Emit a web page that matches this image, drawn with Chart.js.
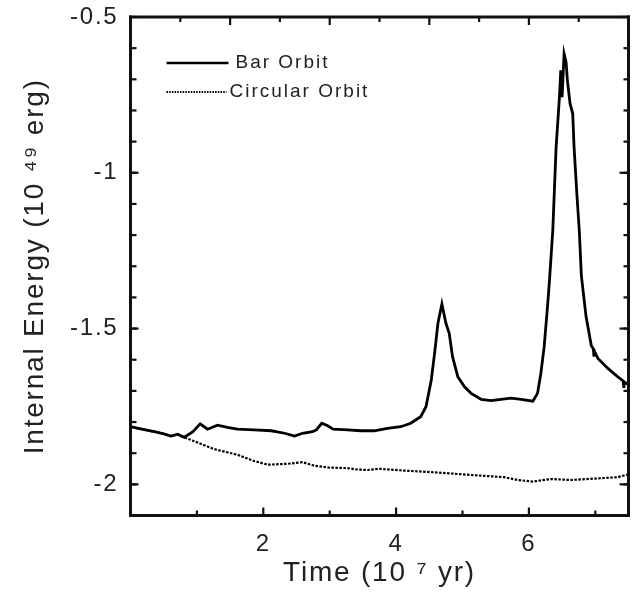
<!DOCTYPE html>
<html>
<head>
<meta charset="utf-8">
<script src="https://cdn.jsdelivr.net/npm/chart.js@4.4.1/dist/chart.umd.min.js"></script>
<style>
  html, body { margin: 0; padding: 0; background: #fff; }
  #wrap { width: 633px; height: 610px; }
</style>
</head>
<body>
<div id="wrap"><canvas id="myChart"></canvas></div>
<script>
// values (time in 10^7 yr, energy in 10^49 erg)
const barTime = [0.00, 0.15, 0.36, 0.50, 0.61, 0.71, 0.81, 0.94, 1.05, 1.16, 1.31, 1.46, 1.61, 1.86, 2.12, 2.32, 2.47, 2.59, 2.74, 2.80, 2.88, 2.97, 3.05, 3.27, 3.47, 3.67, 3.87, 4.07, 4.22, 4.37, 4.45, 4.53, 4.58, 4.63, 4.69, 4.75, 4.80, 4.85, 4.93, 5.03, 5.13, 5.28, 5.43, 5.58, 5.73, 5.88, 6.06, 6.13, 6.18, 6.23, 6.28, 6.31, 6.36, 6.41, 6.46, 6.48, 6.50, 6.53, 6.56, 6.58, 6.62, 6.66, 6.68, 6.72, 6.76, 6.79, 6.86, 6.94, 6.97, 6.98, 6.99, 7.04, 7.19, 7.34, 7.42, 7.43, 7.44, 7.50];
const barEnergy = [-1.815, -1.822, -1.831, -1.838, -1.845, -1.839, -1.849, -1.831, -1.806, -1.823, -1.810, -1.817, -1.823, -1.825, -1.828, -1.836, -1.845, -1.836, -1.831, -1.825, -1.804, -1.812, -1.823, -1.825, -1.828, -1.828, -1.820, -1.815, -1.804, -1.783, -1.751, -1.665, -1.579, -1.483, -1.421, -1.483, -1.515, -1.590, -1.655, -1.687, -1.708, -1.727, -1.731, -1.727, -1.723, -1.727, -1.733, -1.708, -1.644, -1.558, -1.430, -1.345, -1.184, -0.917, -0.757, -0.671, -0.757, -0.618, -0.645, -0.704, -0.778, -0.810, -0.917, -1.060, -1.190, -1.330, -1.460, -1.555, -1.565, -1.590, -1.575, -1.596, -1.628, -1.655, -1.668, -1.690, -1.672, -1.680];

const circTime = [0.00, 0.15, 0.36, 0.50, 0.61, 0.71, 0.81, 1.01, 1.26, 1.61, 1.86, 2.07, 2.37, 2.59, 2.77, 2.97, 3.27, 3.40, 3.57, 3.75, 4.12, 4.63, 5.13, 5.63, 5.83, 6.06, 6.33, 6.63, 7.04, 7.34, 7.46, 7.50];
const circEnergy = [-1.815, -1.822, -1.831, -1.838, -1.845, -1.840, -1.849, -1.866, -1.887, -1.905, -1.925, -1.937, -1.934, -1.929, -1.940, -1.946, -1.948, -1.952, -1.954, -1.950, -1.956, -1.962, -1.970, -1.977, -1.986, -1.991, -1.983, -1.986, -1.981, -1.977, -1.970, -1.968];

const xLabelTicks = [2, 4, 6];
const xMinorTicks = [1, 3, 5, 7];
const topTicks = [0.75, 1.5, 2.25, 3.0, 3.75, 4.5, 5.25, 6.0, 6.75];
const yLabelTicks = [-2, -1.5, -1, -0.5];
const yMinorTicks = [-2.0, -1.9, -1.8, -1.7, -1.6, -1.5, -1.4, -1.3, -1.2, -1.1, -1.0, -0.9, -0.8, -0.7, -0.6];

const FONT = "'Liberation Sans', Arial, Helvetica, sans-serif";
const INK = '#222';
const FRAME = '#111';

const toPoints = (xs, ys) => xs.map((x, i) => ({ x: x, y: ys[i] }));

// wide-set lettering like the scanned figure
const spacing = {
  id: 'spacing',
  beforeDraw(chart) {
    chart.ctx.letterSpacing = '1.8px';
  }
};

// frame and inward ticks on all four sides
const frameTicks = {
  id: 'frameTicks',
  afterDraw(chart) {
    const { ctx, chartArea: a } = chart;
    const x = chart.scales.x;
    const y = chart.scales.y;
    ctx.save();
    ctx.strokeStyle = FRAME;
    ctx.lineWidth = 3;
    ctx.lineCap = 'square';
    ctx.setLineDash([]);
    const line = (x1, y1, x2, y2) => {
      ctx.beginPath();
      ctx.moveTo(x1, y1);
      ctx.lineTo(x2, y2);
      ctx.stroke();
    };
    line(a.left, a.top, a.right, a.top);
    line(a.right, a.top, a.right, a.bottom);
    line(a.left, a.bottom, a.right, a.bottom);
    line(a.left, a.top, a.left, a.bottom);
    ctx.lineWidth = 2.2;
    ctx.lineCap = 'butt';
    xLabelTicks.forEach(v => { const px = x.getPixelForValue(v); line(px, a.bottom, px, a.bottom - 8); });
    xMinorTicks.forEach(v => { const px = x.getPixelForValue(v); line(px, a.bottom, px, a.bottom - 5); });
    topTicks.forEach((v, i) => {
      const px = x.getPixelForValue(v);
      line(px, a.top, px, a.top + (i % 2 ? 8 : 5));
    });
    yLabelTicks.forEach(v => {
      const py = y.getPixelForValue(v);
      line(a.left, py, a.left + 8, py);
      line(a.right, py, a.right - 9, py);
    });
    yMinorTicks.forEach(v => {
      const py = y.getPixelForValue(v);
      line(a.left, py, a.left + 6, py);
      line(a.right, py, a.right - 5, py);
    });
    ctx.restore();
  }
};

// legend inside the plot, top left
const innerLegend = {
  id: 'innerLegend',
  afterDatasetsDraw(chart) {
    const { ctx, chartArea: a } = chart;
    ctx.save();
    ctx.font = '19px ' + FONT;
    ctx.fillStyle = INK;
    ctx.textBaseline = 'middle';
    ctx.letterSpacing = '2px';
    chart.data.datasets.forEach((ds, i) => {
      const yy = a.top + 46 + i * 29;
      const x0 = a.left + 36;
      const x1 = x0 + (i === 0 ? 62 : 60);
      ctx.strokeStyle = ds.borderColor;
      ctx.lineWidth = i === 0 ? 2.5 : 2;
      ctx.setLineDash(i === 0 ? [] : [1.5, 1.2]);
      ctx.beginPath();
      ctx.moveTo(x0, yy);
      ctx.lineTo(x1, yy);
      ctx.stroke();
      ctx.fillText(ds.label, x1 + (i === 0 ? 7 : 3), yy);
    });
    ctx.restore();
  }
};

const ctx = document.getElementById('myChart');

new Chart(ctx, {
  type: 'line',
  data: {
    datasets: [
      {
        label: 'Bar Orbit',
        data: toPoints(barTime, barEnergy),
        borderColor: '#000',
        borderWidth: 2.8,
        pointRadius: 0,
        tension: 0
      },
      {
        label: 'Circular Orbit',
        data: toPoints(circTime, circEnergy),
        borderColor: '#000',
        borderWidth: 2.2,
        borderDash: [2.5, 1.5],
        pointRadius: 0,
        tension: 0
      }
    ]
  },
  options: {
    responsive: true,
    maintainAspectRatio: false,
    animation: false,
    devicePixelRatio: 1,
    layout: { padding: { top: 17, right: 4.5, left: 0, bottom: 0 } },
    plugins: {
      legend: { display: false },
      tooltip: { enabled: false }
    },
    scales: {
      x: {
        type: 'linear',
        min: 0,
        max: 7.5,
        afterBuildTicks: s => { s.ticks = xLabelTicks.map(v => ({ value: v })); },
        afterFit: s => { s.height = 94.5; s.paddingLeft = 0; s.paddingRight = 0; },
        grid: { display: false, drawTicks: false },
        border: { display: false },
        ticks: {
          autoSkip: false,
          maxRotation: 0,
          padding: 14,
          color: INK,
          font: { family: FONT, size: 24 },
          callback: v => String(v)
        },
        title: {
          display: true,
          text: 'Time (10 ⁷ yr)',
          color: INK,
          font: { family: FONT, size: 28 },
          padding: { top: 0, bottom: 20 }
        }
      },
      y: {
        min: -2.1,
        max: -0.5,
        afterBuildTicks: s => { s.ticks = yLabelTicks.map(v => ({ value: v })); },
        afterFit: s => { s.width = 130.5; s.paddingTop = 0; s.paddingBottom = 0; },
        grid: { display: false, drawTicks: false },
        border: { display: false },
        ticks: {
          autoSkip: false,
          padding: 12,
          color: INK,
          font: { family: FONT, size: 24 },
          callback: v => String(v)
        },
        title: {
          display: true,
          text: 'Internal Energy (10 ⁴⁹ erg)',
          color: INK,
          font: { family: FONT, size: 28 },
          padding: { top: 18, bottom: 0 }
        }
      }
    }
  },
  plugins: [spacing, frameTicks, innerLegend]
});
</script>
</body>
</html>
